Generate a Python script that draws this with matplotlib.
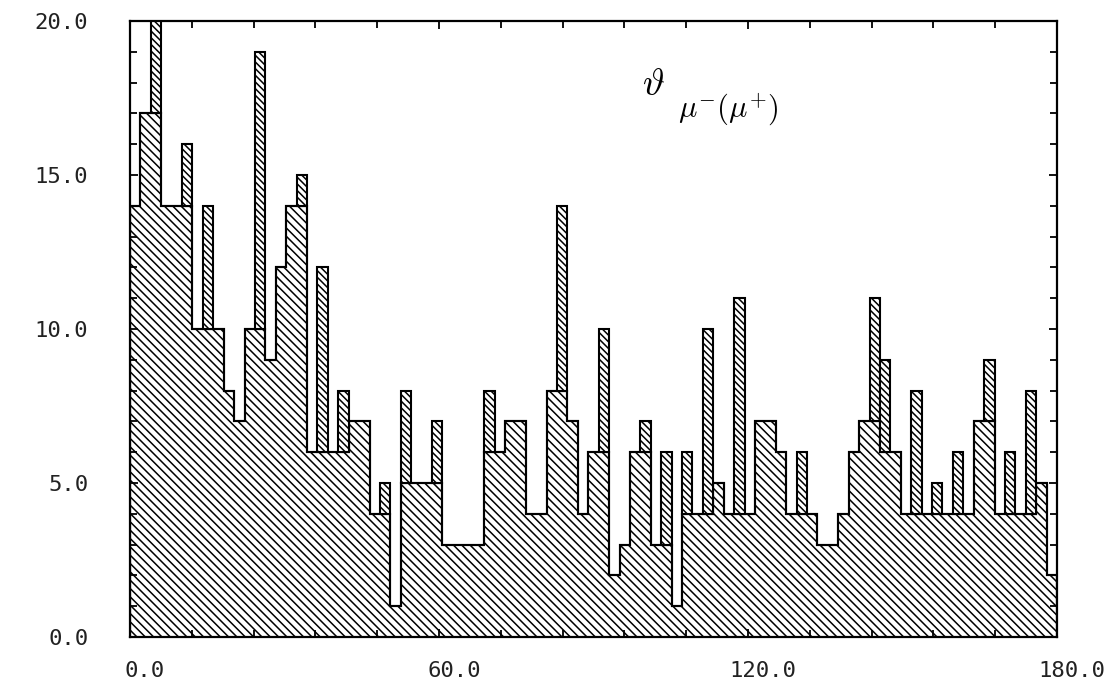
import matplotlib
matplotlib.use("Agg")
import matplotlib.pyplot as plt
import matplotlib.transforms as mtransforms
import numpy as np

# ---- data (histogram bins spanning 0..180 deg) ----
wide_counts = [14, 17, 17, 14, 14, 14, 10, 10, 10, 8,
               7, 10, 10, 9, 12, 14, 14, 6, 6, 6,
               6, 7, 7, 4, 4, 1, 5, 5, 5, 5,
               3, 3, 3, 3, 6, 6, 7, 7, 4, 4,
               8, 8, 7, 4, 6, 6, 2, 3, 6, 6,
               3, 3, 1, 4, 4, 4, 5, 4, 4, 4,
               7, 7, 6, 4, 4, 4, 3, 3, 4, 6,
               7, 7, 6, 6, 4, 4, 4, 4, 4, 4,
               4, 7, 7, 4, 4, 4, 4, 5, 2]
top_counts = [14, 17, 22, 14, 14, 16, 10, 14, 10, 8,
              7, 10, 19, 9, 12, 14, 15, 6, 12, 6,
              8, 7, 7, 4, 5, 1, 8, 5, 5, 7,
              3, 3, 3, 3, 8, 6, 7, 7, 4, 4,
              8, 14, 7, 4, 6, 10, 2, 3, 6, 7,
              3, 6, 1, 6, 4, 10, 5, 4, 11, 4,
              7, 7, 6, 4, 6, 4, 3, 3, 4, 6,
              7, 11, 9, 6, 4, 8, 4, 5, 4, 6,
              4, 7, 9, 4, 6, 4, 8, 5, 2]
x_range = (0, 180)
x_ticks = [0, 60, 120, 180]
x_tick_labels = ['0.0', '60.0', '120.0', '180.0']
y_ticks = [0, 5, 10, 15, 20]
y_tick_labels = ['0.0', '5.0', '10.0', '15.0', '20.0']
symbol_text = r'$\vartheta$'
sub_text = r'$\mu^{-}(\mu^{+})$'

BS = chr(92)
plt.rcParams['hatch.linewidth'] = 1.1
plt.rcParams['mathtext.fontset'] = 'cm'

W, H = 1117, 700
fig = plt.figure(figsize=(W / 100, H / 100), dpi=100)
ax = fig.add_axes([130 / W, (H - 637) / H, (1057 - 130) / W, (637 - 21) / H])

wide = np.array(wide_counts, dtype=float)
top = np.array(top_counts, dtype=float)
edges = np.linspace(x_range[0], x_range[1], len(wide) + 1)
bw = edges[1] - edges[0]

# base histogram (wide hatch)
ax.stairs(wide, edges, fill=True, facecolor='white', edgecolor='black',
          hatch=BS * 4, linewidth=1.5)
ax.stairs(wide, edges, fill=False, color='black', linewidth=1.5)

# excess on top (denser hatch)
mask = top > wide
ax.bar(edges[:-1][mask], (top - wide)[mask], bottom=wide[mask], width=bw,
       align='edge', facecolor='white', edgecolor='black', hatch=BS * 5,
       linewidth=1.5)

ax.set_xlim(*x_range)
ax.set_ylim(0, 20)

ax.set_xticks(x_ticks)
ax.set_xticklabels(x_tick_labels)
ax.set_xticks(np.arange(0, 181, 12), minor=True)
ax.set_yticks(y_ticks)
ax.set_yticklabels(y_tick_labels)
ax.set_yticks(np.arange(0, 21, 1), minor=True)

ax.tick_params(which='both', direction='in', top=True, right=True,
               width=1.3, colors='black')
ax.tick_params(which='major', length=6)
ax.tick_params(which='minor', length=5)
ax.tick_params(axis='y', which='major', pad=30)
ax.tick_params(axis='x', which='major', pad=17)

for lab in ax.get_xticklabels() + ax.get_yticklabels():
    lab.set_fontfamily('DejaVu Sans Mono')
    lab.set_fontsize(16)
    lab.set_color('#222222')

offset = mtransforms.ScaledTranslation(15 / 100, 0, fig.dpi_scale_trans)
for lab in ax.get_xticklabels():
    lab.set_transform(lab.get_transform() + offset)

for sp in ax.spines.values():
    sp.set_linewidth(1.6)

ax.text(0.552, 0.926, symbol_text, transform=ax.transAxes, fontsize=27,
        ha='left', va='top', color='black')
ax.text(0.591, 0.885, sub_text, transform=ax.transAxes, fontsize=22,
        ha='left', va='top', color='black')

fig.savefig('out.png', dpi=100)
